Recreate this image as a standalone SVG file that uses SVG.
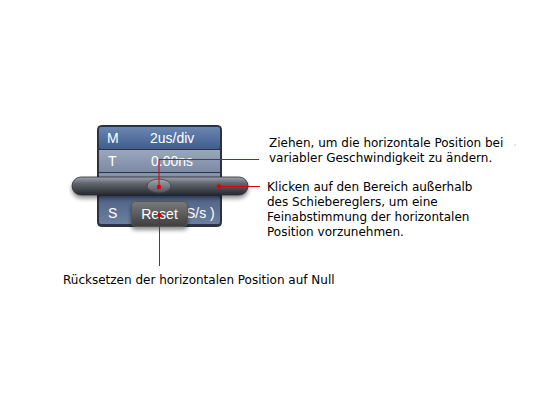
<svg xmlns="http://www.w3.org/2000/svg" width="539" height="400" viewBox="0 0 539 400">
<defs>
<linearGradient id="gM" x1="0" y1="0" x2="0" y2="1"><stop offset="0" stop-color="#6a86b2"/><stop offset="1" stop-color="#3f5d8e"/></linearGradient>
<linearGradient id="gT" x1="0" y1="0" x2="0" y2="1"><stop offset="0" stop-color="#9aa6bc"/><stop offset="1" stop-color="#7d8aa4"/></linearGradient>
<linearGradient id="gS" x1="0" y1="0" x2="0" y2="1"><stop offset="0" stop-color="#4f6286"/><stop offset="1" stop-color="#6c7fa0"/></linearGradient>
<linearGradient id="gBar" x1="0" y1="0" x2="0" y2="1"><stop offset="0" stop-color="#a0a4ae"/><stop offset="0.35" stop-color="#62666f"/><stop offset="1" stop-color="#26282f"/></linearGradient>
<linearGradient id="gThumb" x1="0" y1="0" x2="0" y2="1"><stop offset="0" stop-color="#a4a8b0"/><stop offset="1" stop-color="#4e525a"/></linearGradient>
<linearGradient id="gReset" x1="0" y1="0" x2="0" y2="1"><stop offset="0" stop-color="#7a7a7a"/><stop offset="1" stop-color="#3e3e3e"/></linearGradient>
<filter id="sh" x="-10%" y="-50%" width="120%" height="250%"><feGaussianBlur in="SourceAlpha" stdDeviation="2"/><feOffset dy="3"/><feComponentTransfer><feFuncA type="linear" slope="0.45"/></feComponentTransfer><feMerge><feMergeNode/><feMergeNode in="SourceGraphic"/></feMerge></filter>
</defs>
<style>
.pt{font-family:"Liberation Sans",Arial,sans-serif;font-size:14px;fill:#ffffff}
.lbl{font-family:"DejaVu Sans",Verdana,sans-serif;font-size:12px;fill:#000000}
.ln{stroke:#e00000;stroke-width:1;fill:none}
.dot{fill:#e00000}
</style>
<rect width="539" height="400" fill="#ffffff"/>
<g id="panel">
<rect x="97.5" y="125.5" width="124" height="101" rx="4" fill="#2c3444" stroke="#2a3040"/>
<rect x="99" y="127" width="121" height="22" rx="2" fill="url(#gM)"/>
<rect x="99" y="150" width="121" height="22" fill="url(#gT)"/>
<rect x="99" y="173" width="121" height="4" fill="#8894ac"/>
<rect x="99" y="196" width="121" height="28" rx="2" fill="url(#gS)"/>
<text class="pt" x="107" y="143">M</text>
<text class="pt" x="150" y="143">2us/div</text>
<text class="pt" x="108" y="166">T</text>
<text class="pt" x="151" y="166">0.00ns</text>
<text class="pt" x="108" y="218">S</text>
<text class="pt" x="186" y="218">S/s )</text>
</g>
<g id="slider">
<rect x="72" y="177" width="176" height="18" rx="9" fill="url(#gBar)" stroke="#2a2c32" stroke-width="0.8" filter="url(#sh)"/>
<ellipse cx="159" cy="186" rx="12" ry="7" fill="url(#gThumb)" stroke="#3a3d44" stroke-width="0.8"/>
</g>
<g id="reset">
<rect x="131.5" y="201.5" width="56" height="25" rx="4" fill="url(#gReset)" stroke="#555" filter="url(#sh)"/>
<text class="pt" x="159.5" y="219" text-anchor="middle" font-size="13">Reset</text>
</g>
<g id="connectors">
<polyline class="ln" points="159,187 159,159.5 259,159.5"/>
<line class="ln" x1="219" y1="186.5" x2="260" y2="186.5"/>
<line class="ln" x1="159.5" y1="215" x2="159.5" y2="266"/>
<circle class="dot" cx="159" cy="187" r="2.2"/>
<circle class="dot" cx="219" cy="186.5" r="2.2"/>
<circle class="dot" cx="159.5" cy="215" r="2.2"/>
</g>
<g id="label-drag">
<text class="lbl" x="269" y="147">Ziehen, um die horizontale Position bei</text>
<text class="lbl" x="269" y="162">variabler Geschwindigkeit zu ändern.</text>
</g>
<g id="label-click">
<text class="lbl" x="267" y="191">Klicken auf den Bereich außerhalb</text>
<text class="lbl" x="267" y="206">des Schiebereglers, um eine</text>
<text class="lbl" x="267" y="221">Feinabstimmung der horizontalen</text>
<text class="lbl" x="267" y="236">Position vorzunehmen.</text>
</g>
<g id="label-reset">
<text class="lbl" x="63" y="284">Rücksetzen der horizontalen Position auf Null</text>
</g>
<circle cx="515" cy="145" r="0.7" fill="#b8b8b8"/>
</svg>
